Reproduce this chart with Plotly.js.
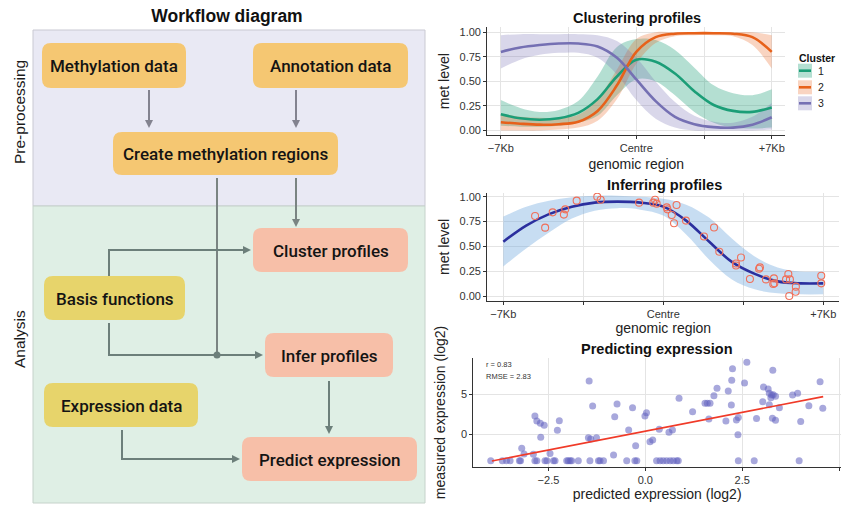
<!DOCTYPE html>
<html>
<head>
<meta charset="utf-8">
<script src="https://cdn.plot.ly/plotly-3.0.1.min.js"></script>
<style>html,body{margin:0;padding:0;background:#fff;}#chart{width:841px;height:505px;}</style>
</head>
<body>
<div id="chart"></div>
<script>
// ---------------- DATA ----------------
// Clustering profiles (genomic region in Kb, -7 .. +7)
const clusterNames = ['1', '2', '3'];
const clusterX = [-7, -6, -5, -4, -3, -2, -1, 0, 1, 2, 3, 4, 5, 6, 7];
const cluster1Mean  = [0.165, 0.125, 0.11, 0.125, 0.18, 0.32, 0.55, 0.72, 0.70, 0.58, 0.40, 0.26, 0.20, 0.19, 0.235];
const cluster1Lower = [0.05, 0.04, 0.04, 0.05, 0.08, 0.15, 0.36, 0.52, 0.50, 0.36, 0.19, 0.08, 0.03, 0.02, 0.03];
const cluster1Upper = [0.31, 0.23, 0.19, 0.21, 0.30, 0.55, 0.85, 0.93, 0.92, 0.82, 0.64, 0.46, 0.38, 0.36, 0.42];
const cluster2Mean  = [0.085, 0.07, 0.06, 0.065, 0.09, 0.20, 0.46, 0.80, 0.95, 0.985, 0.99, 0.99, 0.985, 0.95, 0.80];
const cluster2Lower = [0.0, 0.0, 0.0, 0.01, 0.03, 0.10, 0.32, 0.68, 0.89, 0.96, 0.97, 0.97, 0.96, 0.87, 0.63];
const cluster2Upper = [0.17, 0.14, 0.13, 0.13, 0.16, 0.32, 0.62, 0.93, 1.0, 1.0, 1.0, 1.0, 1.0, 1.0, 0.97];
const cluster3Mean  = [0.80, 0.845, 0.87, 0.885, 0.885, 0.855, 0.74, 0.52, 0.30, 0.14, 0.065, 0.035, 0.03, 0.06, 0.135];
const cluster3Lower = [0.63, 0.72, 0.77, 0.79, 0.79, 0.74, 0.57, 0.31, 0.12, 0.03, 0.0, 0.0, 0.0, 0.0, 0.01];
const cluster3Upper = [0.97, 0.98, 0.98, 0.98, 0.98, 0.97, 0.91, 0.74, 0.50, 0.29, 0.15, 0.09, 0.08, 0.14, 0.28];

// Inferring profiles
const inferX = [-7, -6, -5, -4, -3, -2, -1, 0, 1, 2, 3, 4, 5, 6, 7];
const inferMean  = [0.548, 0.71, 0.825, 0.90, 0.94, 0.95, 0.94, 0.90, 0.76, 0.55, 0.345, 0.225, 0.15, 0.13, 0.13];
const inferLower = [0.30, 0.48, 0.64, 0.78, 0.86, 0.885, 0.87, 0.81, 0.62, 0.37, 0.17, 0.07, 0.03, 0.02, 0.02];
const inferUpper = [0.80, 0.90, 0.96, 0.995, 1.01, 1.01, 1.0, 0.98, 0.92, 0.79, 0.58, 0.40, 0.29, 0.25, 0.25];
const obsX = [-5.61, -5.17, -4.84, -4.35, -4.29, -3.79, -2.89, -2.74, -1.06, -0.44, -0.36, -0.29, 0.15, 0.18, 0.58, 0.37, 0.47, 0.99, 1.78, 2.22, 2.45, 3.18, 3.18, 3.40, 3.79, 4.19, 4.23, 4.49, 4.81, 4.86, 4.84, 5.37, 5.47, 5.54, 5.51, 5.80, 5.79, 6.91, 6.91];
const obsY = [0.806, 0.689, 0.843, 0.82, 0.873, 0.96, 1.0, 0.97, 0.94, 0.94, 0.97, 0.93, 0.893, 0.873, 0.917, 0.816, 0.733, 0.76, 0.60, 0.69, 0.448, 0.33, 0.31, 0.39, 0.174, 0.277, 0.29, 0.17, 0.124, 0.13, 0.18, 0.17, 0.224, 0.17, 0.003, 0.097, 0.046, 0.207, 0.13];

// Predicting expression (log2)
const predX = [-3.99, -3.69, -3.58, -3.49, -3.25, -3.22, -2.85, -2.80, -2.59, -2.54, -2.37, -2.33, -2.03, -1.99, -1.94, -1.90, -1.73, -1.43, -1.21, -1.17, -1.08, -0.48, -0.27, -0.22, 0.29, 0.38, 0.46, 0.55, 0.64, 0.72, 0.81, 0.85, 2.40, 2.81, 3.97,
  -3.19, -3.13, -2.89, -2.85, -2.80, -2.71, -2.61, -2.70, -2.46, -2.27, -2.22, -1.45, -1.36, -1.47, -1.41, -1.26, -0.79, -0.73, -0.82, -0.43, -0.33, -0.25, -0.01, 0.03, 0.12, 0.19, 0.36, 0.61, 0.70, 0.87, 1.22, 1.54, 1.60, 1.67, 1.64, 1.77, 1.85, 2.08, 2.14, 2.22, 2.23, 2.25, 2.35, 2.40, 2.39, 2.56, 2.62, 2.87, 3.03, 3.05, 3.17, 3.20, 3.24, 3.26, 3.29, 3.30, 3.36, 3.20, 3.28, 3.36, 3.46, 3.80, 3.93, 4.01, 4.22, 4.51, 4.58];
const predY = [-3.32, -3.32, -3.32, -3.32, -3.32, -3.32, -3.32, -3.32, -3.32, -3.32, -3.32, -3.32, -3.32, -3.32, -3.32, -3.32, -3.32, -3.32, -3.32, -3.32, -3.32, -3.32, -3.32, -3.32, -3.32, -3.32, -3.32, -3.32, -3.32, -3.32, -3.32, -3.32, -3.32, -3.32, -3.32,
  -1.77, -2.48, -2.52, 2.30, 1.68, 1.38, 1.13, -0.38, -2.43, 0.50, 1.72, 6.71, 3.56, -0.42, -0.59, -0.42, 2.22, 3.82, -2.60, 0.54, 3.35, -1.43, 2.30, 2.72, -0.93, -0.72, 0.63, 0.25, 0.55, 4.53, 2.85, 3.90, 3.90, 3.90, 1.93, 4.86, 5.79, 1.68, 5.45, 3.69, 6.80, 8.26, 1.80, 2.10, -0.05, 6.46, 9.07, 2.00, 4.11, 5.96, 5.71, 5.16, 4.60, 4.94, 8.06, 4.98, 4.78, 3.72, 2.03, 1.78, 3.35, 4.95, 5.16, 1.60, 3.61, 6.63, 3.28];
const fitX = [-3.96, 4.59];
const fitY = [-3.36, 4.74];
const statsText = ['r = 0.83', 'RMSE = 2.83'];

// Tick labels
const regionTickVals = [-7, -3.5, 0, 3.5, 7];
const regionTickText = ['\u22127Kb', '', 'Centre', '', '+7Kb'];
const metTickVals = [0, 0.25, 0.5, 0.75, 1];
const metTickText = ['0.00', '0.25', '0.50', '0.75', '1.00'];
const predXTickVals = [-2.5, 0, 2.5, 5];
const predXTickText = ['\u22122.5', '0.0', '2.5', '5.0'];
const predYTickVals = [0, 5];
const predYTickText = ['0', '5'];

// Workflow diagram
const boxLabels = ['Methylation data', 'Annotation data', 'Create methylation regions', 'Cluster profiles', 'Basis functions', 'Infer profiles', 'Expression data', 'Predict expression'];
const boxKind = ['input', 'input', 'input', 'step', 'basis', 'step', 'basis', 'step'];

// ---------------- LAYOUT HELPERS ----------------
const W = 841, H = 505;
const FONT = '"Liberation Sans", Arial, Helvetica, sans-serif';
const BOXFONT = 'Roboto, "Liberation Sans", Arial, sans-serif';
const px = v => v / W;
const py = v => 1 - v / H;

const boxGeom = [ // x0, y0, x1, y1 (pixels in the diagram frame)
  [42, 43, 186, 88], [253, 43, 408, 88], [113, 132, 338, 175], [253, 228, 408, 272],
  [44, 276, 185, 320], [265, 333, 393, 377], [44, 383, 198, 427], [242, 437, 417, 481]
];
const kindFill = {input: '#f5c772', basis: '#e7d46b', step: '#f7bfa8'};

function rr(x0, y0, x1, y1, r) {
  return `M${x0 + r},${y0} L${x1 - r},${y0} Q${x1},${y0} ${x1},${y0 + r} L${x1},${y1 - r} Q${x1},${y1} ${x1 - r},${y1} L${x0 + r},${y1} Q${x0},${y1} ${x0},${y1 - r} L${x0},${y0 + r} Q${x0},${y0} ${x0 + r},${y0} Z`;
}
const headDown = (x, y) => `M${x - 4},${y - 8} L${x + 4},${y - 8} L${x},${y} Z`;
const headRight = (x, y) => `M${x - 8},${y - 4} L${x - 8},${y + 4} L${x},${y} Z`;

const shapes = [];
const annotations = [];
const d = {xref: 'x4', yref: 'y4'};

// panels
shapes.push({...d, type: 'rect', x0: 33, y0: 30, x1: 425, y1: 206, fillcolor: '#e9e9f4', line: {color: '#c9c9d2', width: 1}, layer: 'below'});
shapes.push({...d, type: 'rect', x0: 33, y0: 206, x1: 425, y1: 503, fillcolor: '#dfefe5', line: {color: '#c5d2ca', width: 1}, layer: 'below'});

// boxes
boxLabels.forEach((lab, i) => {
  const g = boxGeom[i];
  shapes.push({...d, type: 'path', path: rr(g[0], g[1], g[2], g[3], 9), fillcolor: kindFill[boxKind[i]], line: {width: 0}});
  annotations.push({...d, x: (g[0] + g[2]) / 2, y: (g[1] + g[3]) / 2 + 0.5, text: lab, showarrow: false,
    xanchor: 'center', yanchor: 'middle', font: {family: BOXFONT, size: 17, weight: 500, color: '#141414'}});
});

// connectors
const cTop = '#83838f', cMid = '#7a8482', cBot = '#6c7f7a';
const seg = (x0, y0, x1, y1, c) => shapes.push({...d, type: 'line', x0, y0, x1, y1, line: {color: c, width: 2}});
const head = (p, c) => shapes.push({...d, type: 'path', path: p, fillcolor: c, line: {width: 0}});
seg(149, 90, 149, 121, cTop); head(headDown(149, 128), cTop);
seg(296, 90, 296, 121, cTop); head(headDown(296, 128), cTop);
seg(296, 178, 296, 220, cMid); head(headDown(296, 227), cMid);
seg(217, 178, 217, 355, cMid);
seg(109, 276, 109, 250, cBot); seg(108, 250, 244, 250, cBot); head(headRight(251, 250), cBot);
seg(109, 323, 109, 355, cBot); seg(108, 355, 256, 355, cBot); head(headRight(263, 355), cBot);
shapes.push({...d, type: 'circle', x0: 213.5, y0: 351.5, x1: 220.5, y1: 358.5, fillcolor: cBot, line: {width: 0}});
seg(329, 381, 329, 427, cBot); head(headDown(329, 434), cBot);
seg(122, 430, 122, 459, cBot); seg(121, 459, 233, 459, cBot); head(headRight(240, 459), cBot);

// side labels
annotations.push({...d, x: 19, y: 112, text: 'Pre-processing', textangle: -90, showarrow: false, font: {family: FONT, size: 15.5, color: '#1a1a1a'}});
annotations.push({...d, x: 19, y: 339, text: 'Analysis', textangle: -90, showarrow: false, font: {family: FONT, size: 15.5, color: '#1a1a1a'}});

// panel titles
const panelTitles = [['Clustering profiles', 636.7, 18.3], ['Inferring profiles', 664, 185], ['Predicting expression', 656.7, 349]];
panelTitles.forEach(t => annotations.push({...d, x: t[1], y: t[2], text: '<b>' + t[0] + '</b>', showarrow: false,
  xanchor: 'center', yanchor: 'middle', font: {family: FONT, size: 14.5, color: '#111'}}));

// stats text
statsText.forEach((s, i) => annotations.push({...d, x: 484, y: 364 + i * 12, text: s, showarrow: false,
  xanchor: 'left', yanchor: 'middle', font: {family: FONT, size: 7.5, color: '#333'}}));

// ---------------- TRACES ----------------
const clusterColors = ['#1b9e77', '#e7611a', '#7570b3'];
const clusterFills = ['rgba(27,158,119,0.33)', 'rgba(231,97,26,0.27)', 'rgba(117,112,179,0.28)'];
const clMean = [cluster1Mean, cluster2Mean, cluster3Mean];
const clLo = [cluster1Lower, cluster2Lower, cluster3Lower];
const clHi = [cluster1Upper, cluster2Upper, cluster3Upper];

const traces = [];
for (let i = 0; i < 3; i++) {
  traces.push({x: clusterX, y: clLo[i], xaxis: 'x', yaxis: 'y', mode: 'lines', line: {width: 0, shape: 'spline', color: clusterFills[i]}, hoverinfo: 'skip', showlegend: false});
  traces.push({x: clusterX, y: clHi[i], xaxis: 'x', yaxis: 'y', mode: 'lines', fill: 'tonexty', fillcolor: clusterFills[i], line: {width: 0, shape: 'spline', color: clusterFills[i]}, hoverinfo: 'skip', showlegend: false});
}
for (let i = 0; i < 3; i++) {
  traces.push({x: clusterX, y: clMean[i], name: clusterNames[i], xaxis: 'x', yaxis: 'y', mode: 'lines', line: {width: 2.6, shape: 'spline', color: clusterColors[i]}, showlegend: false});
}
// infer
traces.push({x: inferX, y: inferLower, xaxis: 'x2', yaxis: 'y2', mode: 'lines', line: {width: 0, shape: 'spline'}, hoverinfo: 'skip', showlegend: false});
traces.push({x: inferX, y: inferUpper, xaxis: 'x2', yaxis: 'y2', mode: 'lines', fill: 'tonexty', fillcolor: 'rgba(109,166,222,0.38)', line: {width: 0, shape: 'spline'}, hoverinfo: 'skip', showlegend: false});
traces.push({x: inferX, y: inferMean, xaxis: 'x2', yaxis: 'y2', mode: 'lines', line: {width: 2.6, shape: 'spline', color: '#2b2f9e'}, showlegend: false});
traces.push({x: obsX, y: obsY, xaxis: 'x2', yaxis: 'y2', mode: 'markers', marker: {symbol: 'circle-open', size: 7, color: '#f0705a', line: {width: 1.1}}, showlegend: false});
// predict
traces.push({x: predX, y: predY, xaxis: 'x3', yaxis: 'y3', mode: 'markers', marker: {size: 7, color: 'rgba(96,96,192,0.55)', line: {width: 0}}, showlegend: false});
traces.push({x: fitX, y: fitY, xaxis: 'x3', yaxis: 'y3', mode: 'lines', line: {width: 1.6, color: '#f03a28'}, showlegend: false});
// diagram frame
traces.push({x: [], y: [], xaxis: 'x4', yaxis: 'y4', mode: 'markers', showlegend: false, hoverinfo: 'skip'});

// legend (manual, ggplot style)
annotations.push({...d, x: 797, y: 58, text: '<b>Cluster</b>', showarrow: false, xanchor: 'left', yanchor: 'middle', font: {family: FONT, size: 10.5, color: '#111'}});
const legY = [70.7, 87.3, 103.3];
clusterNames.forEach((n, i) => {
  shapes.push({...d, type: 'rect', x0: 798, x1: 812, y0: legY[i] - 7, y1: legY[i] + 7, fillcolor: clusterFills[i], line: {width: 0}});
  shapes.push({...d, type: 'line', x0: 799, x1: 811, y0: legY[i], y1: legY[i], line: {color: clusterColors[i], width: 2.6}});
  annotations.push({...d, x: 816, y: legY[i], text: n, showarrow: false, xanchor: 'left', yanchor: 'middle', font: {family: FONT, size: 10.5, color: '#222'}});
});

const ax = {showline: true, linecolor: '#333', linewidth: 1.1, ticks: 'outside', ticklen: 3, tickcolor: '#333', tickwidth: 1,
  showgrid: true, gridcolor: '#e4e4e4', gridwidth: 1, zeroline: false, fixedrange: true,
  tickfont: {family: FONT, size: 11, color: '#333'}};
const tt = (text, standoff) => ({text, standoff, font: {family: FONT, size: 14, color: '#222'}});

const layout = {
  width: W, height: H, margin: {l: 0, r: 0, t: 0, b: 0},
  paper_bgcolor: '#fff', plot_bgcolor: 'rgba(0,0,0,0)',
  font: {family: FONT, color: '#222'}, showlegend: false,
  title: {text: '<b>Workflow diagram</b>', x: 227 / W, xanchor: 'center', xref: 'paper', y: py(16), yanchor: 'middle', yref: 'paper', font: {family: FONT, size: 17.5, color: '#111'}},
  xaxis: {...ax, anchor: 'y', domain: [px(487.3), px(785.3)], range: [-7.7, 7.7], tickvals: regionTickVals, ticktext: regionTickText, title: tt('genomic region', 5)},
  yaxis: {...ax, anchor: 'x', domain: [py(135), py(27.3)], range: [-0.045, 1.05], tickvals: metTickVals, ticktext: metTickText, title: tt('met level', 6)},
  xaxis2: {...ax, anchor: 'y2', domain: [px(487.3), px(839.3)], range: [-7.7, 7.7], tickvals: regionTickVals, ticktext: regionTickText, title: tt('genomic region', 3)},
  yaxis2: {...ax, anchor: 'x2', domain: [py(300.7), py(193)], range: [-0.044, 1.037], tickvals: metTickVals, ticktext: metTickText, title: tt('met level', 6)},
  xaxis3: {...ax, anchor: 'y3', domain: [px(473.3), 1], range: [-4.44, 5.05], tickvals: predXTickVals, ticktext: predXTickText, title: tt('predicted expression (log2)', 4)},
  yaxis3: {...ax, anchor: 'x3', domain: [py(466.7), py(358.3)], range: [-4.08, 9.57], tickvals: predYTickVals, ticktext: predYTickText, title: tt('measured expression (log2)', 12)},
  xaxis4: {domain: [0, 1], range: [0, W], visible: false, fixedrange: true, anchor: 'y4'},
  yaxis4: {domain: [0, 1], range: [H, 0], visible: false, fixedrange: true, anchor: 'x4'},
  shapes, annotations
};

Plotly.newPlot('chart', traces, layout, {staticPlot: true, displayModeBar: false});
</script>
</body>
</html>
